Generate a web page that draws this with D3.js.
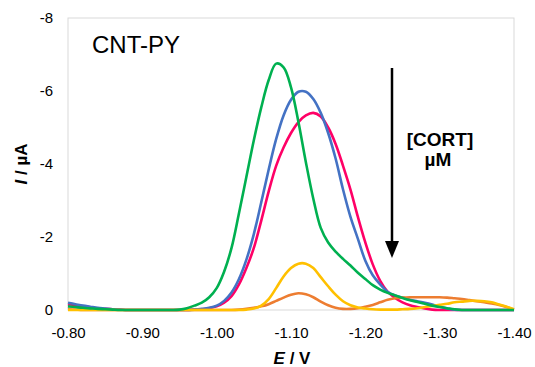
<!DOCTYPE html>
<html>
<head>
<meta charset="utf-8">
<script src="https://cdn.jsdelivr.net/npm/d3@7"></script>
<style>
  body { margin: 0; background: #fff; }
  svg { display: block; font-family: Arial, "Liberation Sans", sans-serif; }
</style>
</head>
<body>
<div id="chart"></div>
<script>
// potential (V), one point every 10 mV
const potentials = [
  -0.80, -0.81, -0.82, -0.83, -0.84, -0.85, -0.86, -0.87, -0.88, -0.89,
  -0.90, -0.91, -0.92, -0.93, -0.94, -0.95, -0.96, -0.97, -0.98, -0.99,
  -1.00, -1.01, -1.02, -1.03, -1.04, -1.05, -1.06, -1.07, -1.08, -1.09,
  -1.10, -1.11, -1.12, -1.13, -1.14, -1.15, -1.16, -1.17, -1.18, -1.19,
  -1.20, -1.21, -1.22, -1.23, -1.24, -1.25, -1.26, -1.27, -1.28, -1.29,
  -1.30, -1.31, -1.32, -1.33, -1.34, -1.35, -1.36, -1.37, -1.38, -1.39,
  -1.40
];

// current (µA) for each trace
const greenI = [
  -0.10, -0.08, -0.06, -0.045, -0.03, -0.02, -0.01, 0, 0, 0,
  0, 0, 0, 0, 0, -0.01, -0.05, -0.12, -0.20, -0.35,
  -0.60, -1.05, -1.70, -2.65, -3.65, -4.65, -5.55, -6.30, -6.75, -6.65,
  -6.10, -5.15, -4.05, -3.05, -2.25, -1.85, -1.60, -1.40, -1.22, -1.02,
  -0.85, -0.68, -0.56, -0.47, -0.40, -0.33, -0.27, -0.22, -0.17, -0.12,
  -0.08, -0.05, -0.02, 0, 0, 0, 0, 0, 0, 0,
  0
];
const blueI = [
  -0.20, -0.16, -0.12, -0.09, -0.06, -0.04, -0.02, -0.01, 0, 0,
  0, 0, 0, 0, 0, 0, 0, -0.01, -0.03, -0.06,
  -0.12, -0.25, -0.48, -0.85, -1.38, -2.08, -2.95, -3.85, -4.68, -5.33,
  -5.76, -5.98, -5.98, -5.78, -5.40, -4.85, -4.15, -3.30, -2.55, -1.95,
  -1.35, -0.95, -0.70, -0.50, -0.40, -0.34, -0.28, -0.24, -0.20, -0.15,
  -0.09, -0.04, -0.01, 0, 0, 0, 0, 0, 0, 0,
  0
];
const pinkI = [
  -0.16, -0.13, -0.10, -0.07, -0.05, -0.03, -0.02, -0.01, 0, 0,
  0, 0, 0, 0, 0, 0, 0, -0.01, -0.02, -0.05,
  -0.10, -0.20, -0.38, -0.70, -1.15, -1.70, -2.45, -3.25, -3.95, -4.45,
  -4.85, -5.15, -5.33, -5.40, -5.30, -5.00, -4.55, -3.95, -3.30, -2.55,
  -1.85, -1.25, -0.80, -0.50, -0.33, -0.21, -0.13, -0.08, -0.04, -0.01,
  0, 0, 0, 0, 0, 0, 0, 0, 0, 0,
  0
];
const orangeI = [
  -0.02, -0.01, 0, 0, 0, 0, 0, 0, 0, 0,
  0, 0, 0, 0, 0, 0, 0, 0, 0, 0,
  0, 0, 0, -0.01, -0.03, -0.06, -0.10, -0.16, -0.25, -0.34,
  -0.42, -0.46, -0.43, -0.35, -0.23, -0.13, -0.06, -0.03, -0.03, -0.05,
  -0.09, -0.14, -0.21, -0.28, -0.32, -0.34, -0.35, -0.35, -0.35, -0.35,
  -0.35, -0.34, -0.32, -0.30, -0.27, -0.24, -0.21, -0.18, -0.14, -0.08,
  -0.01
];
const yellowI = [
  0, 0, 0, 0, 0, 0, 0, 0, 0, 0,
  0, 0, 0, 0, 0, 0, 0, 0, 0, 0,
  0, 0, 0, 0, -0.01, -0.04, -0.12, -0.30, -0.60, -0.92,
  -1.15, -1.27, -1.27, -1.15, -0.90, -0.65, -0.42, -0.24, -0.13, -0.07,
  -0.04, -0.02, -0.01, -0.01, -0.01, -0.02, -0.03, -0.05, -0.08, -0.11,
  -0.14, -0.17, -0.21, -0.23, -0.25, -0.25, -0.24, -0.21, -0.15, -0.09,
  -0.02
];

const xTicks = [-0.80, -0.90, -1.00, -1.10, -1.20, -1.30, -1.40];
const yTicks = [0, -2, -4, -6, -8];

// drawn in this order, last one on top
const traces = [
  { name: "pink", color: "#ff0066", values: pinkI },
  { name: "blue", color: "#4472c4", values: blueI },
  { name: "orange", color: "#ed7d31", values: orangeI },
  { name: "yellow", color: "#ffc000", values: yellowI },
  { name: "green", color: "#00b050", values: greenI }
];

const width = 535, height = 367;
const margin = { top: 18, right: 21, bottom: 57, left: 68 };

// plain hyphen for negatives, like the original
const hyphen = f => d => f(d).replace("\u2212", "-");

const x = d3.scaleLinear()
  .domain([-0.80, -1.40])
  .range([margin.left, width - margin.right]);

const y = d3.scaleLinear()
  .domain([0, -8])
  .range([height - margin.bottom, margin.top]);

const svg = d3.select("#chart")
  .append("svg")
  .attr("width", width)
  .attr("height", height);

// plot frame
svg.append("rect")
  .attr("x", x.range()[0])
  .attr("y", y.range()[1])
  .attr("width", x.range()[1] - x.range()[0])
  .attr("height", y.range()[0] - y.range()[1])
  .attr("fill", "none")
  .attr("stroke", "#d9d9d9")
  .attr("stroke-width", 1);

const xAxis = svg.append("g")
  .attr("transform", `translate(0,${y(0)})`)
  .call(d3.axisBottom(x).tickValues(xTicks).tickSize(0).tickPadding(17)
    .tickFormat(hyphen(d3.format(".2f"))));
xAxis.select(".domain").remove();
xAxis.selectAll("text")
  .attr("font-size", 15)
  .attr("font-family", "Arial, 'Liberation Sans', sans-serif")
  .attr("fill", "#000");

const yAxis = svg.append("g")
  .attr("transform", `translate(${x(-0.80)},0)`)
  .call(d3.axisLeft(y).tickValues(yTicks).tickSize(0).tickPadding(15)
    .tickFormat(hyphen(d3.format("d"))));
yAxis.select(".domain").remove();
yAxis.selectAll("text")
  .attr("font-size", 15)
  .attr("font-family", "Arial, 'Liberation Sans', sans-serif")
  .attr("fill", "#000");

const line = d3.line()
  .x((d, i) => x(potentials[i]))
  .y(d => y(d))
  .curve(d3.curveCatmullRom.alpha(0.5));

svg.append("g")
  .selectAll("path")
  .data(traces)
  .join("path")
  .attr("fill", "none")
  .attr("stroke", d => d.color)
  .attr("stroke-width", 2.6)
  .attr("stroke-linejoin", "round")
  .attr("d", d => line(d.values));

// axis titles
svg.append("text")
  .attr("transform", `translate(27,${(y(0) + y(-8)) / 2}) rotate(-90)`)
  .attr("text-anchor", "middle")
  .attr("font-size", 17)
  .attr("font-weight", "bold")
  .call(t => t.append("tspan").attr("font-style", "italic").text("I"))
  .call(t => t.append("tspan").text(" / µA"));

svg.append("text")
  .attr("x", 292)
  .attr("y", 364)
  .attr("text-anchor", "middle")
  .attr("font-size", 17)
  .attr("font-weight", "bold")
  .call(t => t.append("tspan").attr("font-style", "italic").text("E"))
  .call(t => t.append("tspan").text(" / V"));

// panel label
svg.append("text")
  .attr("x", 92)
  .attr("y", 53)
  .attr("font-size", 24)
  .text("CNT-PY");

// concentration arrow
svg.append("line")
  .attr("x1", 392).attr("x2", 392)
  .attr("y1", 68).attr("y2", 246)
  .attr("stroke", "#000")
  .attr("stroke-width", 2.5);
svg.append("path")
  .attr("d", "M385,241 L399,241 L392,258 Z")
  .attr("fill", "#000");

svg.append("text")
  .attr("x", 440)
  .attr("y", 146)
  .attr("text-anchor", "middle")
  .attr("font-size", 19)
  .attr("font-weight", "bold")
  .text("[CORT]");
svg.append("text")
  .attr("x", 438)
  .attr("y", 166)
  .attr("text-anchor", "middle")
  .attr("font-size", 19)
  .attr("font-weight", "bold")
  .text("µM");
</script>
</body>
</html>
